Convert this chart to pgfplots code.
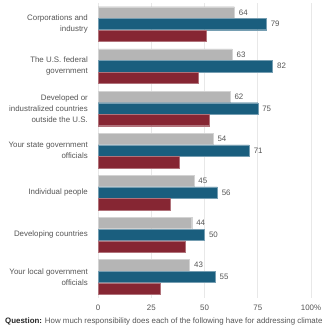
\documentclass[border=0pt]{standalone}
\usepackage{pgfplots}
\pgfplotsset{compat=1.18}
\usepackage{fontspec}
\setmainfont{Liberation Sans}
\definecolor{cgray}{HTML}{B5B5B5}
\definecolor{cblue}{HTML}{1A5E7E}
\definecolor{cred}{HTML}{862633}
\definecolor{ctext}{HTML}{555555}
\definecolor{cgrid}{HTML}{E8E8E8}
\begin{document}
\begin{tikzpicture}
\useasboundingbox (0pt,0pt) rectangle (328pt,328pt);
\begin{axis}[
  at={(98pt,30pt)}, anchor=south west,
  scale only axis, width=213pt, height=295pt,
  xbar, bar width=11.3pt,
  xmin=0, xmax=100, ymin=-0.5, ymax=6.5,
  axis line style={draw=none},
  xtick={0,25,50,75,100},
  xticklabels={0,25,50,75,100\%},
  xmajorgrids, grid style={cgrid, line width=0.6pt},
  major tick length=0pt,
  ytick={0,1,2,3,4,5,6},
  yticklabels={{Your local government\\officials},{Developing countries},{Individual people},{Your state government\\officials},{Developed or\\industralized countries\\outside the U.S.},{The U.S. federal\\government},{Corporations and\\industry}},
  yticklabel style={align=right, inner sep=0pt, xshift=-10pt, font=\fontsize{7.9}{11}\selectfont, text=ctext},
  xticklabel style={inner sep=0pt, yshift=-7pt, font=\fontsize{7.9}{10}\selectfont, text=ctext},
  /pgf/number format/assume math mode=true,
  nodes near coords style={font=\fontsize{7.9}{10}\selectfont, text=ctext, anchor=west, xshift=1pt},
  clip=false,
]
\addplot[fill=cgray, draw=cgray!60!white, line width=0.4pt, bar shift=11.7pt, nodes near coords] coordinates {
(43,0) (44,1) (45,2) (54,3) (62,4) (63,5) (64,6)};
\addplot[fill=cblue, draw=cblue!60!white, line width=0.4pt, bar shift=0pt, nodes near coords] coordinates {
(55,0) (50,1) (56,2) (71,3) (75,4) (82,5) (79,6)};
\addplot[fill=cred, draw=cred!65!white, line width=0.4pt, bar shift=-11.7pt] coordinates {
(29,0) (41,1) (34,2) (38,3) (52,4) (47,5) (51,6)};
\end{axis}
\node[anchor=west, inner sep=0pt, text=ctext, font=\fontsize{7.9}{10}\selectfont] at (5pt,7pt) {\textbf{\color{black!85}Question:} How much responsibility does each of the following have for addressing climate};
\end{tikzpicture}
\end{document}
